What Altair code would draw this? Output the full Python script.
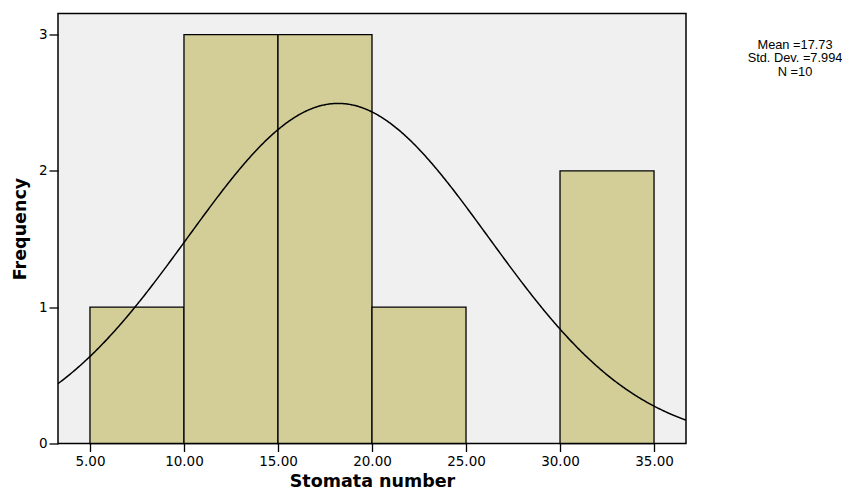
import altair as alt
import pandas as pd

bin_start = [5, 10, 15, 20, 25, 30]
bin_end = [10, 15, 20, 25, 30, 35]
counts = [1, 3, 3, 1, 0, 2]

mean = 17.73
std_dev = 7.994
n = 10
bin_width = 5
# the fitted curve as drawn in the picture is centred slightly right of the stated mean
curve_center = 18.2

x_ticks = [5, 10, 15, 20, 25, 30, 35]
y_ticks = [0, 1, 2, 3]

bars_df = pd.DataFrame({"start": bin_start, "end": bin_end, "count": counts})
bars_df = bars_df[bars_df["count"] > 0]

xscale = alt.Scale(domain=[3.3, 36.7], nice=False, zero=False)
yscale = alt.Scale(domain=[0, 3.155], nice=False)

bars = alt.Chart(bars_df).mark_rect(
    fill="#D3CE98", stroke="black", strokeWidth=1.3
).encode(
    x=alt.X("start:Q", scale=xscale,
            axis=alt.Axis(values=x_ticks, format=".2f", title="Stomata number",
                          tickSize=8, labelPadding=3,
                          titleBaseline="alphabetic", titleY=42.5,
                          grid=False, domain=False)),
    x2="end:Q",
    y=alt.Y("count:Q", scale=yscale,
            axis=alt.Axis(values=y_ticks, format="d", title="Frequency",
                          tickSize=9, labelPadding=2, titlePadding=9,
                          grid=False, domain=False)),
    y2=alt.datum(0),
)

curve = alt.Chart(alt.sequence(3.3, 36.75, 0.05, as_="x")).transform_calculate(
    y=f"{n}*{bin_width}/({std_dev}*sqrt(2*PI))*exp(-0.5*pow((datum.x-{curve_center})/{std_dev},2))"
).mark_line(color="black", strokeWidth=1.5, clip=True).encode(
    x=alt.X("x:Q", scale=xscale),
    y=alt.Y("y:Q", scale=yscale),
)

stats = alt.Chart(pd.DataFrame({"t": [f"Mean ={mean}\nStd. Dev. ={std_dev}\nN ={n}"]})).mark_text(
    align="center", baseline="top", fontSize=12.8, lineHeight=13.5,
    font="Liberation Sans", lineBreak="\n", color="black"
).encode(
    x=alt.value(737), y=alt.value(25), text="t:N"
)

chart = alt.layer(bars, curve, stats).properties(
    width=628, height=430,
    background="white",
    autosize=alt.AutoSizeParams(type="none"),
    padding={"left": 50, "top": 5.5, "right": 156, "bottom": 47.5},
).configure_view(
    fill="#F0F0F0", stroke="black", strokeWidth=1.5
).configure_axis(
    labelFont="DejaVu Sans", titleFont="DejaVu Sans",
    labelFontSize=13.5, titleFontSize=17.5, titleFontWeight="bold",
    labelColor="black", titleColor="black", tickColor="black", tickWidth=1.3
)

chart.save("out.html", embed_options={"renderer": "svg", "actions": False})
